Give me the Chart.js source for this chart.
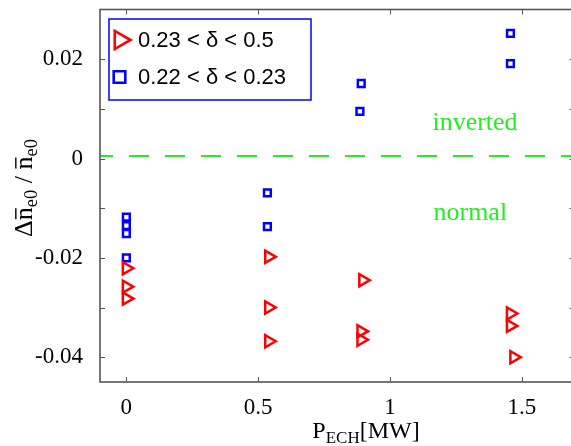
<!DOCTYPE html>
<html lang="en">
<head>
<meta charset="UTF-8">
<title>Δn/n vs P_ECH</title>
<style>
  html, body { margin: 0; padding: 0; background: #fff; overflow: hidden; }
  #plot { display: block; }
</style>
<script src="https://cdn.jsdelivr.net/npm/chart.js"></script>
</head>
<body>
<canvas id="plot" width="584" height="446"></canvas>
<script>
// P_ECH [MW] against the density change, two triangularity groups
const redLabel = '0.23 < δ < 0.5';
const redX = [0, 0, 0, 0.54, 0.54, 0.54, 0.897, 0.89, 0.89, 1.457, 1.457, 1.47];
const redY = [-0.0221, -0.0258, -0.0282, -0.0198, -0.0300, -0.0368, -0.0245, -0.0348, -0.0365, -0.0312, -0.0337, -0.0400];

const blueLabel = '0.22 < δ < 0.23';
const blueX = [0, 0, 0, 0, 0.535, 0.535, 0.891, 0.886, 1.457, 1.457];
const blueY = [-0.0118, -0.0135, -0.0151, -0.0200, -0.0069, -0.0137, 0.0151, 0.0095, 0.0252, 0.0191];

const xTicks = [0, 0.5, 1, 1.5];
const yTicks = [-0.04, -0.03, -0.02, -0.01, 0, 0.01, 0.02];
const yTickLabels = ['-0.04', '', '-0.02', '', '0', '', '0.02'];
const splitY = 0.0005;

const serif = '"Liberation Serif", "DejaVu Serif", serif';
const sans = '"Liberation Sans", Arial, sans-serif';
const green = '#22ee22';

function toPoints(xs, ys) {
    return xs.map((v, i) => ({ x: v, y: ys[i] }));
}

// no extra label padding: keep the plot box where it is in the figure
function noPad(s) {
    s.paddingTop = 0;
    s.paddingBottom = 0;
    s.paddingLeft = 0;
    s.paddingRight = 0;
}

// dashed zero line + region names
const regionPlugin = {
    id: 'regions',
    beforeDatasetsDraw(chart) {
        const { ctx, chartArea: a, scales: { x, y } } = chart;
        const py = y.getPixelForValue(splitY);
        ctx.save();
        ctx.strokeStyle = green;
        ctx.lineWidth = 2;
        ctx.setLineDash([20, 16]);
        ctx.lineDashOffset = 7;
        ctx.beginPath();
        ctx.moveTo(a.left, py);
        ctx.lineTo(a.right, py);
        ctx.stroke();
        ctx.setLineDash([]);
        ctx.fillStyle = green;
        ctx.font = '26px ' + serif;
        ctx.textBaseline = 'alphabetic';
        ctx.fillText('inverted', x.getPixelForValue(1.161), y.getPixelForValue(0.0057));
        ctx.fillText('normal', x.getPixelForValue(1.165), y.getPixelForValue(-0.0123));
        ctx.restore();
    }
};

function drawMarker(ctx, style, cx, cy, r) {
    ctx.beginPath();
    if (style === 'triangle') {
        // pointing right
        ctx.moveTo(cx + r, cy);
        ctx.lineTo(cx - r / 2, cy - r * Math.sqrt(3) / 2);
        ctx.lineTo(cx - r / 2, cy + r * Math.sqrt(3) / 2);
        ctx.closePath();
    } else {
        ctx.rect(cx - r, cy - r, 2 * r, 2 * r);
    }
    ctx.stroke();
}

const legendPlugin = {
    id: 'boxLegend',
    afterDatasetsDraw(chart) {
        const ctx = chart.ctx;
        ctx.save();
        ctx.fillStyle = '#fff';
        ctx.fillRect(109, 19, 202, 81);
        ctx.strokeStyle = '#0000ff';
        ctx.lineWidth = 1.5;
        ctx.strokeRect(109, 19, 202, 81);
        const rows = [
            { ds: chart.data.datasets[0], y: 40, r: 10.5, mx: 120 },
            { ds: chart.data.datasets[1], y: 77, r: 5.8, mx: 119.5 }
        ];
        ctx.font = '22px ' + sans;
        ctx.textBaseline = 'middle';
        rows.forEach(row => {
            ctx.strokeStyle = row.ds.borderColor;
            ctx.lineWidth = 2.6;
            drawMarker(ctx, row.ds.pointStyle, row.mx, row.y, row.r);
            ctx.fillStyle = '#000';
            ctx.fillText(row.ds.label, 138, row.y + 1);
        });
        ctx.restore();
    }
};

// pieces of text with subscripts and overbars
function drawRich(ctx, parts, main, sub) {
    let w = 0;
    parts.forEach(p => {
        ctx.font = (p.sub ? sub : main) + 'px ' + serif;
        p.w = ctx.measureText(p.t).width;
        w += p.w;
    });
    let cx = -w / 2;
    parts.forEach(p => {
        ctx.font = (p.sub ? sub : main) + 'px ' + serif;
        const dy = p.sub ? main * 0.22 : 0;
        ctx.fillText(p.t, cx, dy);
        if (p.bar) {
            ctx.fillRect(cx + 1, -main * 0.63, p.w - 2, 1.4);
        }
        cx += p.w;
    });
}

const titlePlugin = {
    id: 'titles',
    afterDraw(chart) {
        const ctx = chart.ctx;
        ctx.save();
        ctx.fillStyle = '#000';
        ctx.textBaseline = 'alphabetic';
        ctx.textAlign = 'left';

        ctx.save();
        ctx.translate(366, 438);
        drawRich(ctx, [{ t: 'P' }, { t: 'ECH', sub: true }, { t: '[MW]' }], 24, 17);
        ctx.restore();

        ctx.save();
        ctx.translate(31.5, 188);
        ctx.rotate(-Math.PI / 2);
        drawRich(ctx, [
            { t: 'Δ' }, { t: 'n', bar: true }, { t: 'e0', sub: true },
            { t: ' / ' }, { t: 'n', bar: true }, { t: 'e0', sub: true }
        ], 26, 18.5);
        ctx.restore();

        ctx.restore();
    }
};

// box with inward ticks on all four sides
const framePlugin = {
    id: 'frame',
    afterDraw(chart) {
        const { ctx, chartArea: a, scales: { x, y } } = chart;
        ctx.save();
        ctx.strokeStyle = '#555';
        ctx.lineWidth = 1.6;
        ctx.strokeRect(a.left, a.top, a.right - a.left, a.bottom - a.top);
        ctx.lineWidth = 1;
        ctx.beginPath();
        xTicks.forEach(v => {
            const px = Math.round(x.getPixelForValue(v)) + 0.5;
            ctx.moveTo(px, a.bottom); ctx.lineTo(px, a.bottom - 5);
            ctx.moveTo(px, a.top); ctx.lineTo(px, a.top + 5);
        });
        yTicks.forEach(v => {
            const py = Math.round(y.getPixelForValue(v)) + 0.5;
            ctx.moveTo(a.left, py); ctx.lineTo(a.left + 5, py);
            ctx.moveTo(a.right, py); ctx.lineTo(a.right - 5, py);
        });
        ctx.stroke();
        ctx.restore();
    }
};

new Chart(document.getElementById('plot'), {
    type: 'scatter',
    data: {
        datasets: [
            {
                label: redLabel,
                data: toPoints(redX, redY),
                pointStyle: 'triangle',
                rotation: 90,
                radius: 7,
                borderColor: '#ff0000',
                backgroundColor: 'transparent',
                borderWidth: 2.5
            },
            {
                label: blueLabel,
                data: toPoints(blueX, blueY),
                pointStyle: 'rect',
                radius: 4.8,
                borderColor: '#0000ff',
                backgroundColor: 'transparent',
                borderWidth: 2.5
            }
        ]
    },
    options: {
        responsive: false,
        animation: false,
        devicePixelRatio: 1,
        layout: { padding: { left: 0, right: 2, top: 5.5, bottom: 0 } },
        plugins: {
            legend: { display: false },
            tooltip: { enabled: false }
        },
        scales: {
            x: {
                type: 'linear',
                min: -0.1,
                max: 1.7,
                grid: { display: false },
                border: { display: false },
                afterBuildTicks: s => { s.ticks = xTicks.map(v => ({ value: v })); },
                afterFit: s => { s.height = 64; noPad(s); },
                ticks: {
                    padding: 4,
                    color: '#000',
                    font: { family: serif, size: 23 },
                    maxRotation: 0,
                    callback: v => String(v)
                }
            },
            y: {
                type: 'linear',
                min: -0.045,
                max: 0.03,
                grid: { display: false },
                border: { display: false },
                afterBuildTicks: s => { s.ticks = yTicks.map(v => ({ value: v })); },
                afterFit: s => { s.width = 100; noPad(s); },
                ticks: {
                    padding: 9,
                    color: '#000',
                    font: { family: serif, size: 23 },
                    callback: (v, i) => yTickLabels[i]
                }
            }
        }
    },
    plugins: [regionPlugin, legendPlugin, titlePlugin, framePlugin]
});
</script>
</body>
</html>
